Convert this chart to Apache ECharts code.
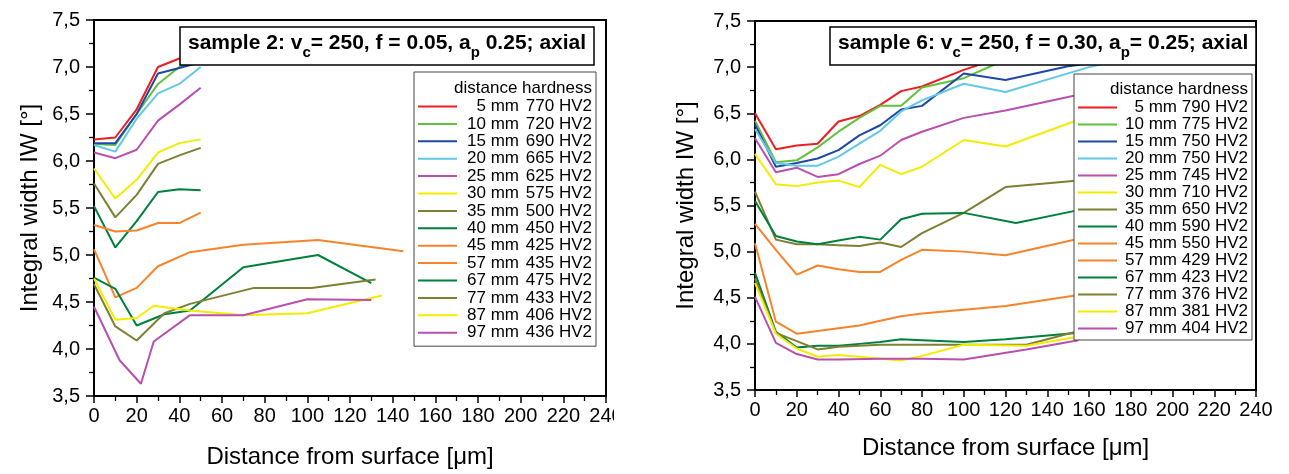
<!DOCTYPE html>
<html>
<head>
<meta charset="utf-8">
<script src="https://cdn.jsdelivr.net/npm/echarts@6/dist/echarts.min.js"></script>
<style>
html,body{margin:0;padding:0;background:#fff;}
#c{width:1289px;height:474px;}
</style>
</head>
<body>
<div id="c"></div>
<script>
// ---------- data ----------
const xTickValues = [0,20,40,60,80,100,120,140,160,180,200,220,240];
const yTickValues = [3.5,4.0,4.5,5.0,5.5,6.0,6.5,7.0,7.5];

const distances = ['5 mm','10 mm','15 mm','20 mm','25 mm','30 mm','35 mm','40 mm','45 mm','57 mm','67 mm','77 mm','87 mm','97 mm'];
const leftHardness  = ['770 HV2','720 HV2','690 HV2','665 HV2','625 HV2','575 HV2','500 HV2','450 HV2','425 HV2','435 HV2','475 HV2','433 HV2','406 HV2','436 HV2'];
const rightHardness = ['790 HV2','775 HV2','750 HV2','750 HV2','745 HV2','710 HV2','650 HV2','590 HV2','550 HV2','429 HV2','423 HV2','376 HV2','381 HV2','404 HV2'];
const colors = ['#ee1d23','#62c03c','#1f48a6','#62c8e6','#b94fae','#f3ec00','#7e7f33','#00803c','#f7842a','#f7842a','#00803c','#7e7f33','#f3ec00','#b94fae'];

// sample 2 (left)
const L_X6 = [0,10,20,30,40,50];
const L05 = [6.23,6.25,6.55,7.00,7.09,7.20];
const L10 = [6.18,6.17,6.50,6.82,7.00,7.10];
const L15 = [6.19,6.19,6.50,6.93,6.99,7.05];
const L20 = [6.17,6.10,6.45,6.72,6.82,7.00];
const L25 = [6.09,6.03,6.12,6.43,6.60,6.78];
const L30 = [5.92,5.60,5.80,6.09,6.19,6.23];
const L35 = [5.76,5.40,5.64,5.97,6.06,6.14];
const L40 = [5.52,5.08,5.36,5.67,5.70,5.69];
const L45 = [5.32,5.25,5.26,5.34,5.34,5.45];
const L57_X = [0,10,20,30,45,70,105,145];
const L57 = [5.06,4.55,4.65,4.88,5.03,5.11,5.16,5.04];
const L67_X = [0,10,20,33,45,70,105,130];
const L67 = [4.76,4.64,4.25,4.37,4.41,4.87,5.00,4.70];
const L77_X = [0,10,20,33,45,75,102,132];
const L77 = [4.69,4.24,4.09,4.38,4.48,4.65,4.65,4.74];
const L87_X = [0,10,20,28,45,70,100,135];
const L87 = [4.75,4.31,4.33,4.46,4.41,4.36,4.38,4.57];
const L97_X = [0,12,22,28,45,70,100,130];
const L97 = [4.45,3.88,3.63,4.08,4.36,4.36,4.53,4.52];

// sample 6 (right)
const R_X = [0,10,20,30,40,50,60,70,80,100,120,155];
const R05 = [6.50,6.11,6.15,6.17,6.41,6.47,6.59,6.74,6.79,6.97,7.12,7.25];
const R10 = [6.42,5.97,5.99,6.13,6.30,6.45,6.58,6.58,6.78,6.88,7.08,7.20];
const R15_X = [0,10,20,30,40,50,60,70,80,100,120,150,180];
const R15 = [6.38,5.92,5.96,6.01,6.10,6.26,6.37,6.54,6.58,6.93,6.86,7.01,7.10];
const R20_X = [0,10,20,30,40,50,60,70,80,100,120,160,180];
const R20 = [6.33,5.96,5.93,5.93,6.03,6.17,6.31,6.52,6.64,6.82,6.73,7.00,7.10];
const R25 = [6.23,5.86,5.91,5.81,5.84,5.95,6.04,6.21,6.30,6.45,6.53,6.70];
const R30 = [6.06,5.73,5.71,5.75,5.77,5.70,5.94,5.84,5.92,6.21,6.14,6.43];
const R35 = [5.65,5.13,5.08,5.08,5.07,5.06,5.10,5.05,5.20,5.42,5.70,5.77];
const R40_X = [0,10,20,30,40,50,60,70,80,100,125,155];
const R40 = [5.55,5.17,5.11,5.08,5.12,5.16,5.13,5.35,5.41,5.42,5.31,5.45];
const R45 = [5.30,5.02,4.75,4.85,4.81,4.78,4.78,4.91,5.02,5.00,4.96,5.14];
const R57 = [5.09,4.24,4.11,4.14,4.17,4.20,4.25,4.30,4.33,4.37,4.41,4.53];
const R67 = [4.77,4.13,3.96,3.98,3.98,4.00,4.02,4.05,4.04,4.02,4.05,4.12];
const R_X2 = [0,10,20,30,40,50,60,70,80,100,130,155];
const R77 = [4.71,4.12,4.03,3.94,3.97,3.98,3.99,3.99,3.99,3.99,3.99,4.14];
const R87 = [4.66,4.11,3.95,3.86,3.88,3.86,3.84,3.82,3.87,3.99,3.98,4.08];
const R97_X = [0,10,20,30,40,60,80,100,130,155];
const R97 = [4.51,4.01,3.89,3.83,3.83,3.84,3.84,3.83,3.94,4.04];

const leftSeriesX = [L_X6,L_X6,L_X6,L_X6,L_X6,L_X6,L_X6,L_X6,L_X6,L57_X,L67_X,L77_X,L87_X,L97_X];
const leftSeriesY = [L05,L10,L15,L20,L25,L30,L35,L40,L45,L57,L67,L77,L87,L97];
const rightSeriesX = [R_X,R_X,R15_X,R20_X,R_X,R_X,R_X,R40_X,R_X,R_X,R_X,R_X2,R_X2,R97_X];
const rightSeriesY = [R05,R10,R15,R20,R25,R30,R35,R40,R45,R57,R67,R77,R87,R97];

// ---------- chart ----------
const FONT = "'Liberation Sans', Arial, Helvetica, sans-serif";
const chart = echarts.init(document.getElementById('c'), null, {renderer:'canvas'});

const leftNames = distances.map((d,i)=> d + '|' + leftHardness[i]);
const rightNames = distances.map((d,i)=> d + '|' + rightHardness[i]);

function mkSeries(names, xsArr, ysArr, idx){
  return names.map((n,i)=>({
    type:'line', name:n, xAxisIndex:idx, yAxisIndex:idx,
    symbol:'none', showSymbol:false, animation:false,
    color: colors[i],
    lineStyle:{width:2, color:colors[i]},
    data: xsArr[i].map((x,j)=>[x, ysArr[i][j]])
  }));
}

function mkX(idx, gap){
  return {
    type:'value', gridIndex:idx, min:0, max:240, interval:20,
    axisLine:{show:true, onZero:false, lineStyle:{color:'#000', width:1.5}},
    axisTick:{show:true, length:7, lineStyle:{color:'#000', width:1.5}},
    minorTick:{show:true, splitNumber:2, length:5, lineStyle:{color:'#000', width:1.3}},
    splitLine:{show:false},
    axisLabel:{color:'#000', fontSize:20, fontFamily:FONT, margin:10,
      customValues: xTickValues},
    name:'Distance from surface [\u03bcm]', nameLocation:'middle', nameGap:gap,
    nameTextStyle:{color:'#000', fontSize:24, fontFamily:FONT}
  };
}
function mkY(idx, gap){
  return {
    type:'value', gridIndex:idx, min:3.5, max:7.5, interval:0.5,
    axisLine:{show:true, onZero:false, lineStyle:{color:'#000', width:1.5}},
    axisTick:{show:true, length:8, lineStyle:{color:'#000', width:1.5}},
    minorTick:{show:true, splitNumber:2, length:5, lineStyle:{color:'#000', width:1.3}},
    splitLine:{show:false},
    axisLabel:{color:'#000', fontSize:20, fontFamily:FONT, margin:14,
      formatter: v => v.toFixed(1).replace('.', ',')},
    name:'Integral width IW [\u00b0]', nameLocation:'middle', nameGap:gap,
    nameTextStyle:{color:'#000', fontSize:24, fontFamily:FONT}
  };
}

const richTitle = {
  a:{fontSize:21, fontWeight:'bold', fontFamily:FONT, color:'#000', lineHeight:26, verticalAlign:'top'},
  s:{fontSize:15, fontWeight:'bold', fontFamily:FONT, color:'#000', lineHeight:18, verticalAlign:'top', padding:[12,0,0,0]}
};

function mkLegend(names, left, top, padTop, padBottom, gap, dW, hW){
  return {
    orient:'vertical', left:left, top:top, data:names,
    icon:'rect', itemWidth:39, itemHeight:2, itemGap:gap,
    padding:[padTop,4,padBottom,4],
    backgroundColor:'#fff', borderColor:'#444', borderWidth:1,
    selectedMode:false,
    formatter: n => { const p = n.split('|'); return '{d|' + p[0] + '}{h|' + p[1] + '}'; },
    textStyle:{ rich:{
      d:{width:dW, align:'right', fontSize:17, lineHeight:20, fontFamily:FONT, color:'#000'},
      h:{width:hW, align:'right', fontSize:17, lineHeight:20, fontFamily:FONT, color:'#000'}
    }}
  };
}

const option = {
  backgroundColor:'#fff',
  animation:false,
  grid:[
    {left:94, top:20, width:512, height:378, show:true, borderColor:'#000', borderWidth:2, backgroundColor:'transparent'},
    {left:755, top:21, width:501, height:369, show:true, borderColor:'#000', borderWidth:2, backgroundColor:'transparent'}
  ],
  xAxis:[mkX(0,49), mkX(1,46)],
  yAxis:[mkY(0,52), mkY(1,57)],
  title:[
    {left:180, top:27, text:'{a|sample 2: v}{s|c}{a|= 250, f = 0.05, a}{s|p}{a| 0.25; axial}',
     backgroundColor:'#fff', borderColor:'#000', borderWidth:1.5, padding:[6,8,5,8],
     textStyle:{rich:richTitle}},
    {left:830, top:27, text:'{a|sample 6: v}{s|c}{a|= 250, f = 0.30, a}{s|p}{a|= 0.25; axial}',
     backgroundColor:'#fff', borderColor:'#000', borderWidth:1.5, padding:[6,8,5,8],
     textStyle:{rich:richTitle}}
  ],
  legend:[
    mkLegend(leftNames, 414, 72, 26, 5, 0.4, 57, 73),
    mkLegend(rightNames, 1074, 74, 25, 3, 0, 55, 71)
  ],
  graphic:[
    {type:'text', z:100, style:{text:'distance hardness', x:592, y:88, align:'right', verticalAlign:'middle', fontSize:17, fontFamily:FONT, fill:'#000'}},
    {type:'text', z:100, style:{text:'distance hardness', x:1248, y:89, align:'right', verticalAlign:'middle', fontSize:17, fontFamily:FONT, fill:'#000'}},
    {type:'rect', z:100, shape:{x:614, y:401, width:40, height:36}, style:{fill:'#fff'}}
  ],
  series: mkSeries(leftNames, leftSeriesX, leftSeriesY, 0).concat(mkSeries(rightNames, rightSeriesX, rightSeriesY, 1))
};
chart.setOption(option);
</script>
</body>
</html>
